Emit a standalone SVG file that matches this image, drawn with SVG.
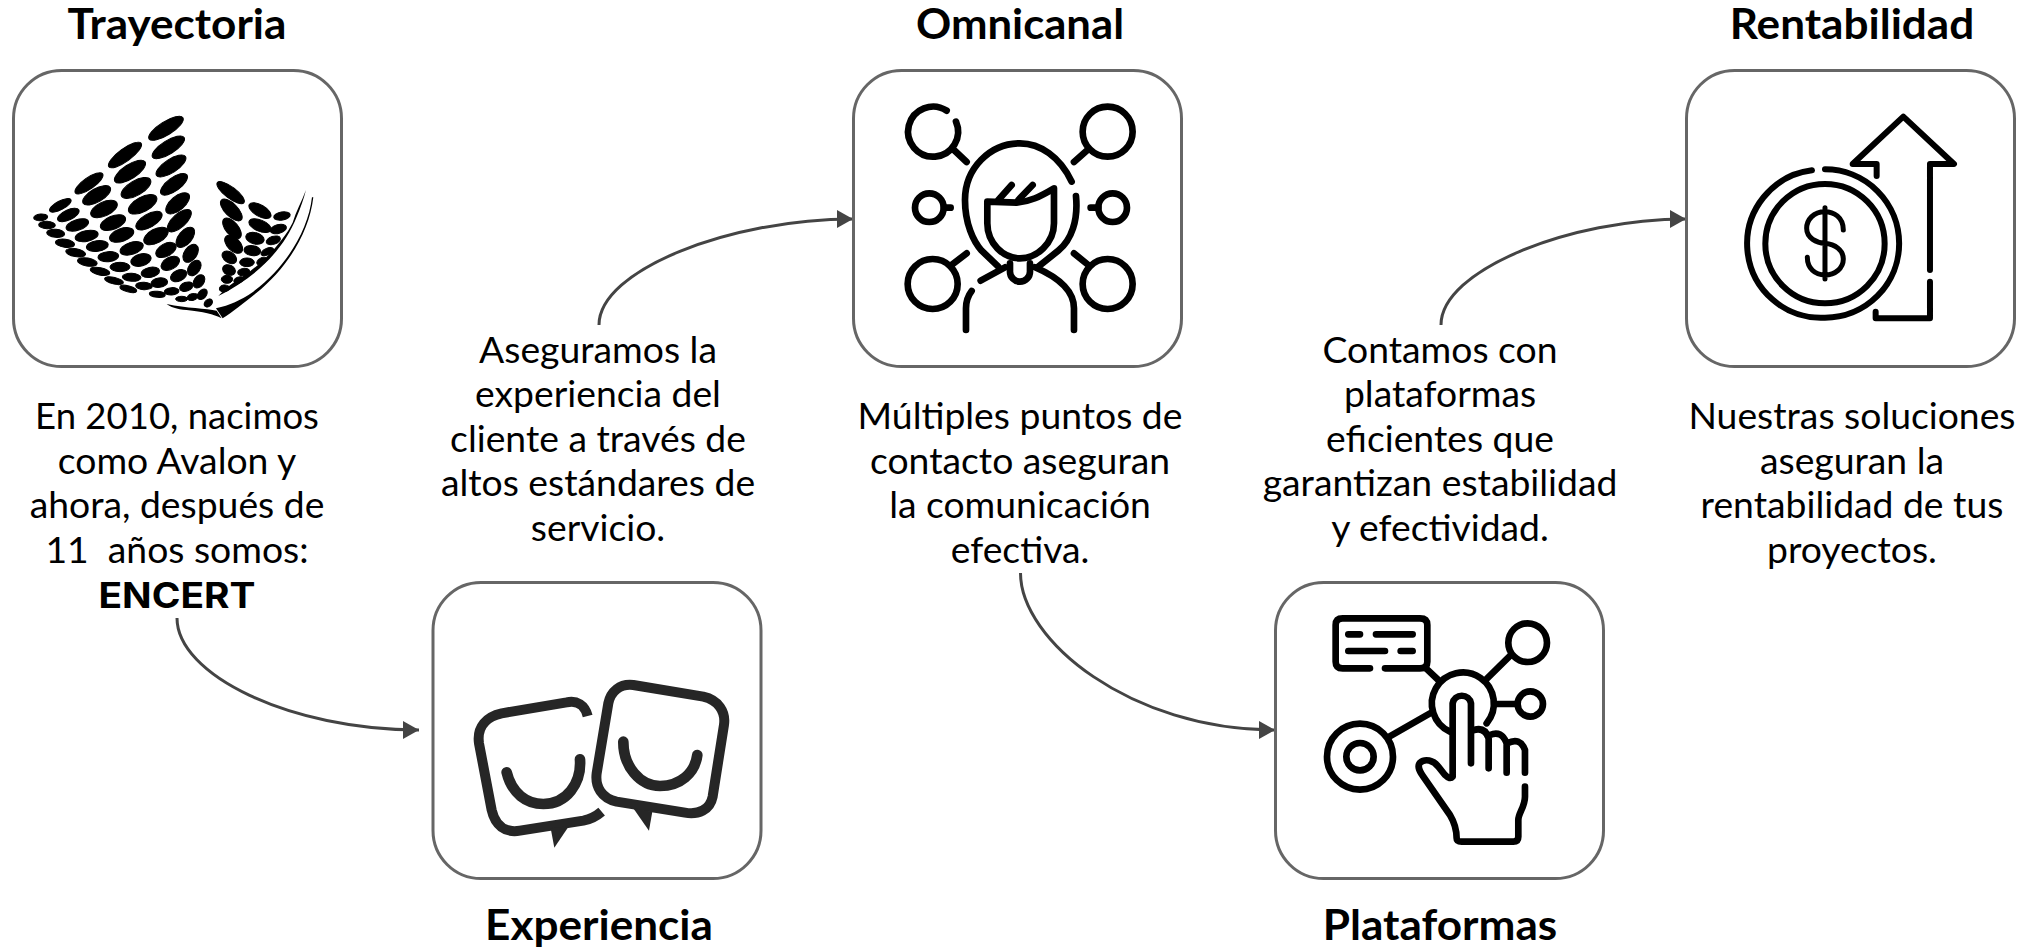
<svg xmlns="http://www.w3.org/2000/svg" width="2031" height="948" viewBox="0 0 2031 948">
<defs>
<style>
.box{fill:#fff;stroke:#666;stroke-width:3}
.t{font-family:Lato,"Liberation Sans",sans-serif;font-size:36.500px;fill:#000;text-anchor:middle}
.h{font-family:Lato,"Liberation Sans",sans-serif;font-size:42px;font-weight:700;fill:#000;text-anchor:middle}
.c{fill:none;stroke:#444;stroke-width:3}
.i{fill:none;stroke:#000;stroke-width:20;stroke-linecap:round;stroke-linejoin:round}
.r{stroke-width:18}
.e{fill:none;stroke:#262626;stroke-width:30;stroke-linejoin:round}
.s{stroke-width:32;stroke-linecap:round}
.d{stroke-width:15}
</style>
<marker id="arr" markerUnits="userSpaceOnUse" markerWidth="17" markerHeight="20" refX="16" refY="10" orient="auto"><path d="M0 1L16 10L0 19Z" fill="#444"/></marker>
</defs>
<rect width="2031" height="948" fill="#fff"/>
<g id="connectors">
<path class="c" marker-end="url(#arr)" d="M177 618C177 675 290 730 419 730"/>
<path class="c" marker-end="url(#arr)" d="M599 325C599 270 730 219 853 219"/>
<path class="c" marker-end="url(#arr)" d="M1020.500 573C1020.500 640 1130 730 1275 730"/>
<path class="c" marker-end="url(#arr)" d="M1441 325C1441 270 1570 219 1686 219"/>
</g>
<g id="trayectoria">
<rect class="box" x="13.500" y="70.500" width="328" height="296" rx="48"/>
<g transform="translate(0,60) scale(.3333)" fill="#000">
<g stroke="#000" stroke-width="3">
<ellipse cx="498" cy="205" rx="60" ry="20" transform="rotate(-32 498 205)"/>
<ellipse cx="505" cy="262" rx="56" ry="20" transform="rotate(-32 505 262)"/>
<ellipse cx="513" cy="318" rx="52" ry="20" transform="rotate(-33 513 318)"/>
<ellipse cx="522" cy="373" rx="48" ry="20" transform="rotate(-36 522 373)"/>
<ellipse cx="533" cy="430" rx="43" ry="21" transform="rotate(-40 533 430)"/>
<ellipse cx="538" cy="482" rx="45" ry="20" transform="rotate(-42 538 482)"/>
<ellipse cx="556" cy="532" rx="36" ry="20" transform="rotate(-50 556 532)"/>
<ellipse cx="572" cy="580" rx="30" ry="19" transform="rotate(-55 572 580)"/>
<ellipse cx="583" cy="624" rx="26" ry="17" transform="rotate(-55 583 624)"/>
<ellipse cx="597" cy="664" rx="22" ry="15" transform="rotate(-55 597 664)"/>
<ellipse cx="607" cy="703" rx="18" ry="12" transform="rotate(-50 607 703)"/>
<ellipse cx="625" cy="729" rx="14" ry="10" transform="rotate(-40 625 729)"/>
<ellipse cx="375" cy="285" rx="60" ry="19" transform="rotate(-36 375 285)"/>
<ellipse cx="390" cy="335" rx="54" ry="21" transform="rotate(-33 390 335)"/>
<ellipse cx="408" cy="384" rx="50" ry="22" transform="rotate(-30 408 384)"/>
<ellipse cx="428" cy="433" rx="47" ry="22" transform="rotate(-28 428 433)"/>
<ellipse cx="447" cy="482" rx="44" ry="20" transform="rotate(-30 447 482)"/>
<ellipse cx="468" cy="528" rx="40" ry="21" transform="rotate(-28 468 528)"/>
<ellipse cx="498" cy="570" rx="33" ry="19" transform="rotate(-28 498 570)"/>
<ellipse cx="511" cy="610" rx="30" ry="18" transform="rotate(-28 511 610)"/>
<ellipse cx="536" cy="647" rx="26" ry="16" transform="rotate(-25 536 647)"/>
<ellipse cx="559" cy="680" rx="21" ry="13" transform="rotate(-20 559 680)"/>
<ellipse cx="578" cy="711" rx="17" ry="10" transform="rotate(-15 578 711)"/>
<ellipse cx="267" cy="370" rx="50" ry="17" transform="rotate(-35 267 370)"/>
<ellipse cx="290" cy="406" rx="47" ry="20" transform="rotate(-30 290 406)"/>
<ellipse cx="312" cy="447" rx="43" ry="21" transform="rotate(-25 312 447)"/>
<ellipse cx="339" cy="488" rx="40" ry="20" transform="rotate(-22 339 488)"/>
<ellipse cx="365" cy="525" rx="38" ry="19" transform="rotate(-20 365 525)"/>
<ellipse cx="395" cy="565" rx="36" ry="18" transform="rotate(-18 395 565)"/>
<ellipse cx="423" cy="600" rx="31" ry="18" transform="rotate(-15 423 600)"/>
<ellipse cx="451" cy="637" rx="28" ry="15" transform="rotate(-12 451 637)"/>
<ellipse cx="478" cy="668" rx="25" ry="14" transform="rotate(-8 478 668)"/>
<ellipse cx="515" cy="694" rx="22" ry="11" transform="rotate(-4 515 694)"/>
<ellipse cx="545" cy="717" rx="18" ry="8"/>
<ellipse cx="181" cy="436" rx="36" ry="13" transform="rotate(-28 181 436)"/>
<ellipse cx="205" cy="465" rx="35" ry="15" transform="rotate(-25 205 465)"/>
<ellipse cx="232" cy="495" rx="35" ry="16" transform="rotate(-18 232 495)"/>
<ellipse cx="260" cy="528" rx="35" ry="16" transform="rotate(-12 260 528)"/>
<ellipse cx="292" cy="558" rx="33" ry="16" transform="rotate(-8 292 558)"/>
<ellipse cx="325" cy="590" rx="31" ry="15" transform="rotate(-5 325 590)"/>
<ellipse cx="360" cy="621" rx="30" ry="14"/>
<ellipse cx="395" cy="652" rx="28" ry="12" transform="rotate(3 395 652)"/>
<ellipse cx="432" cy="678" rx="25" ry="11" transform="rotate(3 432 678)"/>
<ellipse cx="472" cy="703" rx="24" ry="9" transform="rotate(5 472 703)"/>
<ellipse cx="122" cy="472" rx="21" ry="10" transform="rotate(-5 122 472)"/>
<ellipse cx="141" cy="495" rx="25" ry="11" transform="rotate(2 141 495)"/>
<ellipse cx="167" cy="520" rx="27" ry="12" transform="rotate(5 167 520)"/>
<ellipse cx="195" cy="550" rx="29" ry="12" transform="rotate(8 195 550)"/>
<ellipse cx="227" cy="578" rx="30" ry="12" transform="rotate(10 227 578)"/>
<ellipse cx="262" cy="606" rx="30" ry="12" transform="rotate(10 262 606)"/>
<ellipse cx="300" cy="634" rx="30" ry="11" transform="rotate(12 300 634)"/>
<ellipse cx="342" cy="662" rx="29" ry="10" transform="rotate(14 342 662)"/>
<ellipse cx="385" cy="687" rx="26" ry="9" transform="rotate(15 385 687)"/>
<ellipse cx="692" cy="398" rx="50" ry="17" transform="rotate(37 692 398)"/>
<ellipse cx="694" cy="450" rx="42" ry="19" transform="rotate(45 694 450)"/>
<ellipse cx="696" cy="505" rx="37" ry="19" transform="rotate(50 696 505)"/>
<ellipse cx="701" cy="553" rx="33" ry="19" transform="rotate(45 701 553)"/>
<ellipse cx="688" cy="592" rx="24" ry="16" transform="rotate(35 688 592)"/>
<ellipse cx="687" cy="630" rx="20" ry="15" transform="rotate(25 687 630)"/>
<ellipse cx="681" cy="658" rx="17" ry="12"/>
<ellipse cx="673" cy="685" rx="15" ry="10" transform="rotate(-10 673 685)"/>
<ellipse cx="780" cy="452" rx="37" ry="17" transform="rotate(30 780 452)"/>
<ellipse cx="780" cy="497" rx="35" ry="17" transform="rotate(22 780 497)"/>
<ellipse cx="765" cy="535" rx="28" ry="17" transform="rotate(15 765 535)"/>
<ellipse cx="757" cy="572" rx="25" ry="15" transform="rotate(8 757 572)"/>
<ellipse cx="741" cy="607" rx="22" ry="13"/>
<ellipse cx="731" cy="636" rx="18" ry="11" transform="rotate(-10 731 636)"/>
<ellipse cx="716" cy="660" rx="15" ry="9" transform="rotate(-20 716 660)"/>
<ellipse cx="846" cy="468" rx="25" ry="12" transform="rotate(-10 846 468)"/>
<ellipse cx="835" cy="507" rx="25" ry="13" transform="rotate(-15 835 507)"/>
<ellipse cx="820" cy="541" rx="22" ry="12" transform="rotate(-18 820 541)"/>
<ellipse cx="802" cy="575" rx="20" ry="10" transform="rotate(-25 802 575)"/>
<ellipse cx="785" cy="603" rx="16" ry="9" transform="rotate(-30 785 603)"/>
</g>
<path d="M918 390C905 440 880 500 860 530C810 610 740 665 655 708C680 680 710 660 745 638C800 598 855 535 878 488C888 455 905 425 918 390Z"/>
<path d="M940 412C928 515 865 622 768 700C730 730 700 755 668 775L648 745C690 735 720 722 760 695C860 620 925 510 936 412Z"/>
<path d="M500 732C560 745 620 745 650 752L665 775C640 762 610 755 560 750C530 748 510 740 500 732Z"/>
</g>
</g>
<g id="omnicanal">
<rect class="box" x="853.500" y="70.500" width="328" height="296" rx="48"/>
<g class="i" transform="translate(850,60) scale(.3333)">
<path d="M290 152A75 75 0 1 0 318 185M312 270L350 306"/>
<circle cx="773" cy="215" r="75"/><path d="M715 268L672 306"/>
<circle cx="238" cy="443" r="43"/><path d="M282 443H302"/>
<circle cx="788" cy="443" r="43"/><path d="M745 443H722"/>
<circle cx="248" cy="672" r="75"/><path d="M305 615L350 580"/>
<circle cx="773" cy="672" r="75"/><path d="M715 615L672 580"/>
<path d="M665 365C630 290 570 250 510 250C420 250 345 325 345 420C345 490 370 545 395 572L445 620"/>
<path d="M678 408C685 480 665 540 625 572L565 620"/>
<path d="M412 425V490C412 550 460 595 510 595C560 595 612 550 612 490V385C570 410 540 425 500 428Z"/>
<path d="M445 420L485 375M505 420L548 375"/>
<path d="M480 610V635A30 30 0 0 0 540 635V610"/>
<path d="M392 662L465 622M348 810V745Q348 715 365 693M672 810V745C672 690 620 650 555 622"/>
</g>
</g>
<g id="rentabilidad">
<rect class="box" x="1686.500" y="70.500" width="328" height="296" rx="48"/>
<g class="i r" transform="translate(1680,60) scale(.3333)">
<path d="M396 331A222 222 0 0 0 435 773A222 222 0 0 0 435 328"/>
<circle cx="435" cy="551" r="179"/>
<path class="d" d="M490 510C490 470 460 455 435 455C400 455 380 480 380 505C380 535 410 548 435 550C465 553 490 570 490 597C490 625 465 645 435 645C405 645 382 625 382 592M435 443V657"/>
<path d="M590 348V312H518L670 170L822 312H750V630M750 665V775H587V755"/>
</g>
</g>
<g id="experiencia">
<rect class="box" x="433" y="582.500" width="328" height="296" rx="48"/>
<g transform="translate(420,580) scale(.3333)">
<path class="e" d="M503 408C495 375 470 360 440 367L245 400C200 410 170 440 177 490L215 690C225 735 255 760 300 752L490 722C510 718 530 708 545 695"/>
<path fill="#262626" d="M392 745L447 738L403 803Z"/>
<path class="e s" d="M260 577C275 640 320 672 370 672C440 672 485 610 480 538"/>
<path class="e" d="M640 315L850 350C895 360 918 395 912 435L878 650C870 690 835 705 795 698L590 665C545 655 525 620 530 580L565 370C572 335 600 310 640 315Z"/>
<path fill="#262626" d="M640 685L697 695L687 752Z"/>
<path class="e s" d="M610 485C610 560 660 618 720 618C780 618 825 580 832 525"/>
</g>
</g>
<g id="plataformas">
<rect class="box" x="1275.500" y="582.500" width="328" height="296" rx="48"/>
<g class="i" transform="translate(1270,580) scale(.3333)">
<path d="M300 265H218Q197 265 197 245V135Q197 115 218 115H450Q472 115 472 135V245Q472 265 450 265H345"/>
<path d="M235 163H270M318 163H428M235 213H345M392 213H428M465 262L505 300"/>
<path d="M540 455A93 93 0 1 1 650 430"/>
<circle cx="773" cy="188" r="58"/><path d="M720 228L650 297"/>
<circle cx="781" cy="372" r="38"/><path d="M675 372H740"/>
<circle cx="270" cy="530" r="99"/><circle cx="270" cy="530" r="41"/><path d="M358 470L480 400"/>
<path d="M603 550V370A28 28 0 0 0 548 370V590Q540 600 525 585L505 560C490 540 465 535 450 548C440 560 450 575 460 590L540 705C555 730 560 750 560 775Q560 785 575 785H730Q745 785 745 770V720C745 700 765 680 765 650V620"/>
<path d="M612 450Q645 440 656 475V565M660 465Q695 450 710 490V578M712 490Q750 470 765 510V578"/>
</g>
</g>
<g id="textos">
<text class="h" transform="translate(177,39) scale(1.05,1)">Trayectoria</text>
<text class="h" transform="translate(1020,39) scale(1.04,1)">Omnicanal</text>
<text class="h" transform="translate(1852,39) scale(1.05,1)">Rentabilidad</text>
<text class="h" transform="translate(599,940) scale(1.05,1)">Experiencia</text>
<text class="h" transform="translate(1440,940) scale(1.05,1)">Plataformas</text>
<text class="t" transform="translate(177,429) scale(1,1)">En 2010, nacimos</text>
<text class="t" transform="translate(177,474) scale(1.022,1)">como Avalon y</text>
<text class="t" transform="translate(177,518) scale(1.022,1)">ahora, después de</text>
<text class="t" transform="translate(177,563) scale(1.022,1)" xml:space="preserve">11  años somos:</text>
<text x="177" y="608" textLength="157" lengthAdjust="spacingAndGlyphs" style="font-family:Inter,Lato,sans-serif;font-size:35px;font-weight:700;text-anchor:middle">ENCERT</text>
<text class="t" transform="translate(598,363) scale(1.022,1)">Aseguramos la</text>
<text class="t" transform="translate(598,407) scale(1.022,1)">experiencia del</text>
<text class="t" transform="translate(598,452) scale(1.022,1)">cliente a través de</text>
<text class="t" transform="translate(598,496) scale(1.022,1)">altos estándares de</text>
<text class="t" transform="translate(598,541) scale(1.022,1)">servicio.</text>
<text class="t" transform="translate(1020,429) scale(1.022,1)">Múltiples puntos de</text>
<text class="t" transform="translate(1020,474) scale(1.022,1)">contacto aseguran</text>
<text class="t" transform="translate(1020,518) scale(1.022,1)">la comunicación</text>
<text class="t" transform="translate(1020,563) scale(1.022,1)">efectiva.</text>
<text class="t" transform="translate(1440,363) scale(1.022,1)">Contamos con</text>
<text class="t" transform="translate(1440,407) scale(1.022,1)">plataformas</text>
<text class="t" transform="translate(1440,452) scale(1.022,1)">eficientes que</text>
<text class="t" transform="translate(1440,496) scale(1.022,1)">garantizan estabilidad</text>
<text class="t" transform="translate(1440,541) scale(1.022,1)">y efectividad.</text>
<text class="t" transform="translate(1852,429) scale(1.022,1)">Nuestras soluciones</text>
<text class="t" transform="translate(1852,474) scale(1.022,1)">aseguran la</text>
<text class="t" transform="translate(1852,518) scale(1.022,1)">rentabilidad de tus</text>
<text class="t" transform="translate(1852,563) scale(1.022,1)">proyectos.</text>
</g>
</svg>
